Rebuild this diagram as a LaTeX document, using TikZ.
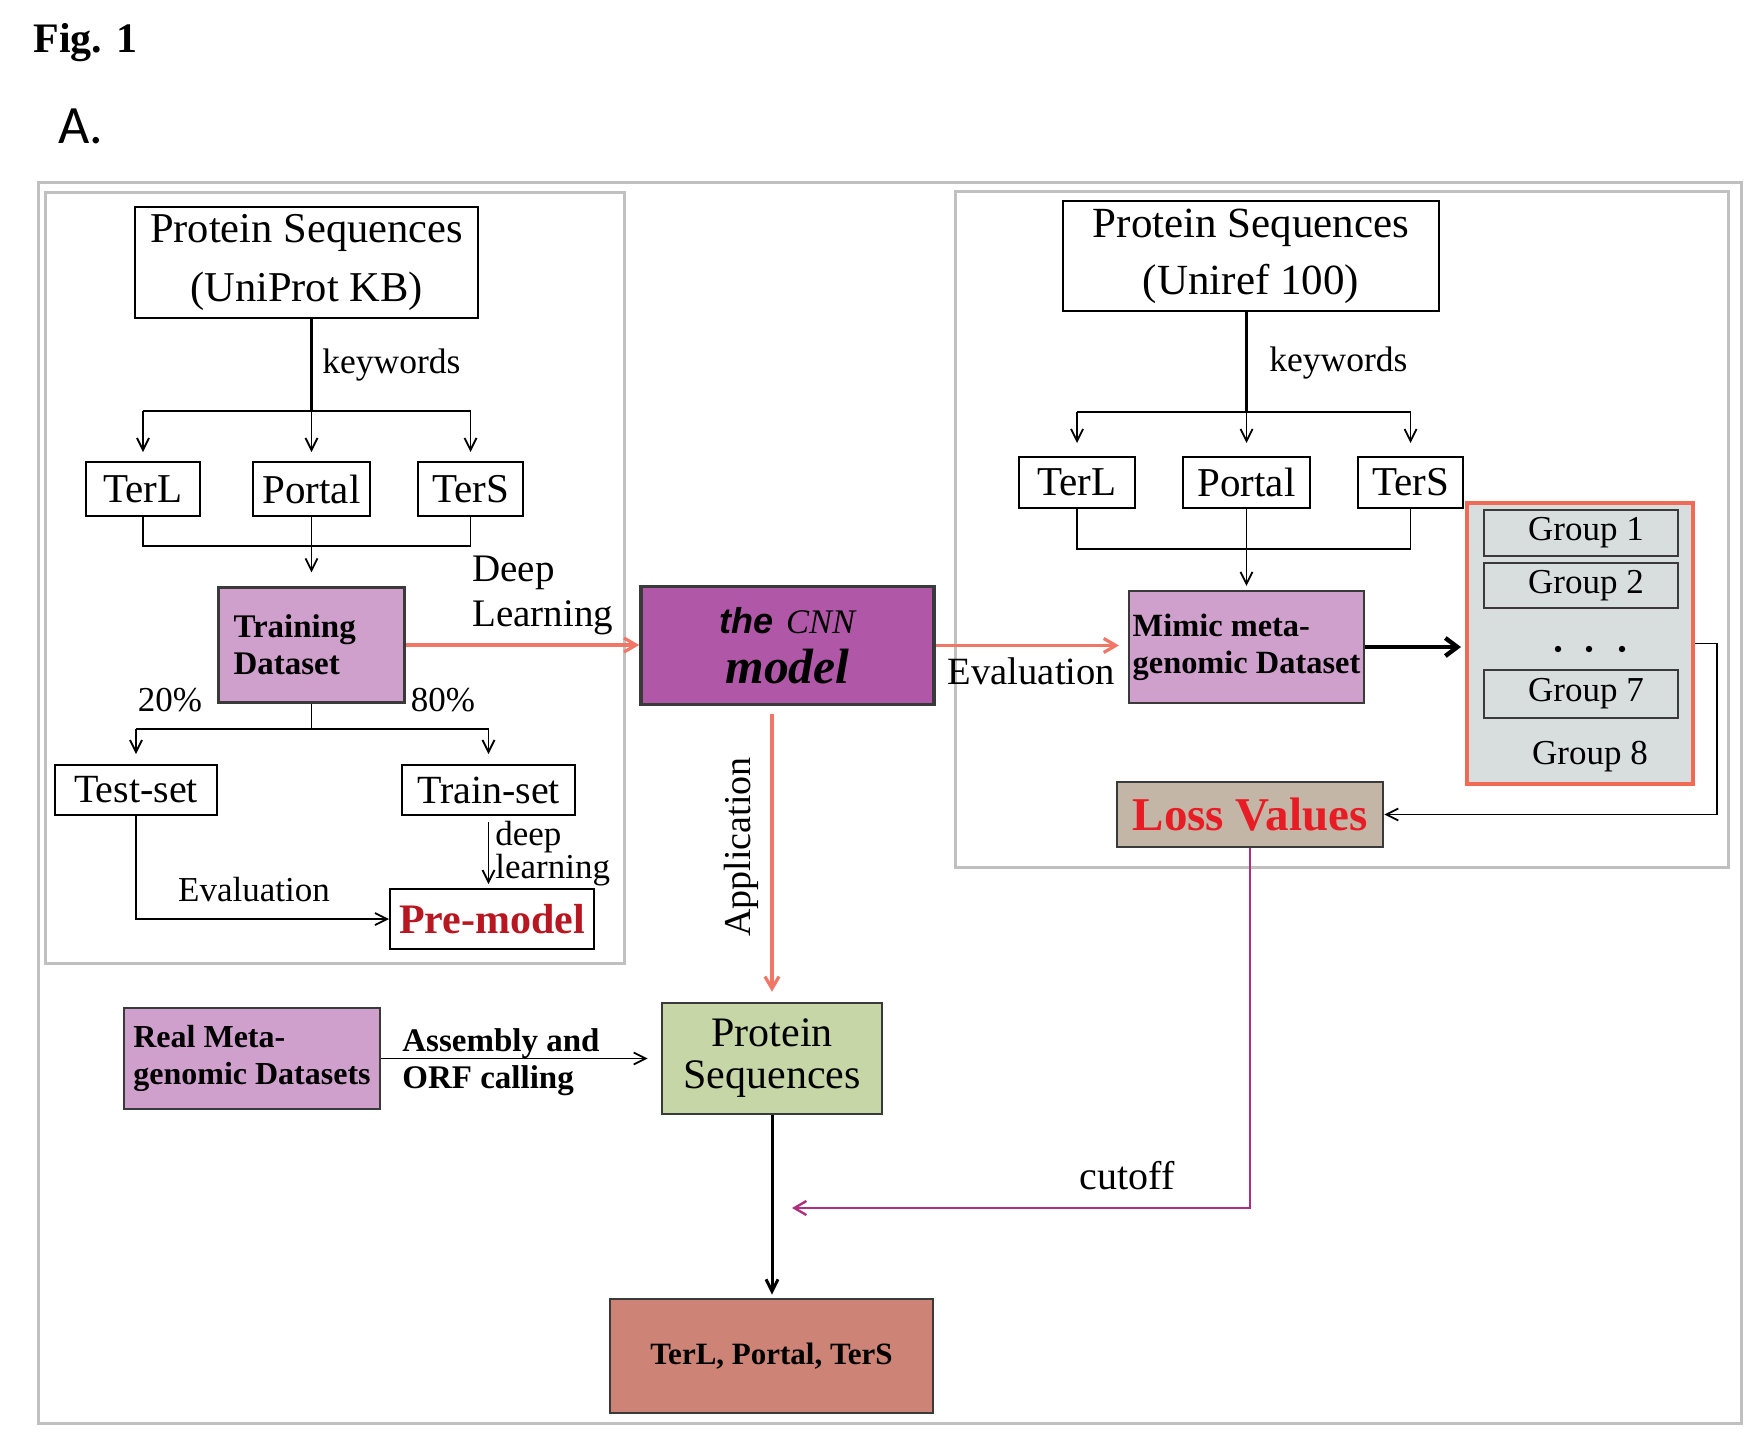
\documentclass[tikz,border=0pt]{standalone}
\usepackage{fontspec}
\setmainfont{Liberation Serif}
\setsansfont{Liberation Sans}
\newfontfamily\panelfont{Carlito}
\usetikzlibrary{arrows.meta,calc}
\newcommand\fsz[2]{\fontsize{#1}{#2}\selectfont}

\definecolor{framegray}{RGB}{192,192,192}
\definecolor{pinkbox}{RGB}{207,160,204}
\definecolor{cnnpurple}{RGB}{177,87,167}
\definecolor{greenbox}{RGB}{198,214,166}
\definecolor{tanbox}{RGB}{196,182,166}
\definecolor{finalbox}{RGB}{205,131,117}
\definecolor{groupfill}{RGB}{216,221,222}
\definecolor{salmon}{RGB}{240,106,86}
\definecolor{redarrow}{RGB}{242,118,102}
\definecolor{cutmag}{RGB}{176,46,126}
\definecolor{lossred}{RGB}{232,28,36}
\definecolor{premred}{RGB}{184,22,32}
\definecolor{edgegray}{RGB}{58,58,58}

\begin{document}
\begin{tikzpicture}[
  x=0.5pt, y=-0.5pt,
  frame/.style={draw=framegray, line width=1.5pt},
  plainbox/.style={draw=black, line width=1pt, fill=white, inner sep=0pt},
  pinkbox/.style={draw=edgegray, line width=1.1pt, fill=pinkbox},
  colbox/.style={draw=edgegray, line width=1.3pt, inner sep=0pt},
  groupbox/.style={draw=edgegray, line width=1pt, fill=groupfill, minimum width=97pt, font=\fsz{17.5}{20}},
  lbl/.style={inner sep=0pt},
  conn/.style={draw=black, line width=0.9pt},
  trunk/.style={draw=black, line width=1.8pt},
  arr/.style={draw=black, line width=0.9pt, -{Straight Barb[length=6pt,width=6pt]}},
  thickarr/.style={draw=black, line width=2.2pt, -{Straight Barb[length=6pt,width=9pt]}},
  redarr/.style={draw=redarrow, line width=1.6pt, -{Straight Barb[length=6pt,width=7pt]}},
  cutarr/.style={draw=cutmag, line width=1.2pt, -{Straight Barb[length=6pt,width=7pt]}}
]
\useasboundingbox (0,0) rectangle (1758,1436);
\fill[white] (0,0) rectangle (1758,1436);

% headings
\node[lbl, anchor=base west, font=\bfseries\fsz{21}{24}] (figlabel) at (33,52) {Fig. 1};
\node[lbl, anchor=base west, font=\panelfont\fsz{27}{30}] (panel) at (58,143) {A.};

% frames
\draw[frame] (38,182) rectangle (1741,1423);
\draw[frame] (45,192) rectangle (624,963);
\draw[frame] (955,191) rectangle (1728,867);

% ---------- left block: building the model ----------
\node[plainbox, minimum width=171.5pt, minimum height=55.5pt, align=center, font=\fsz{21.25}{29.5}] (ps1) at (306.5,262.5) {Protein Sequences\\(UniProt KB)};
\node[plainbox, minimum width=57pt, minimum height=27pt, font=\fsz{20.5}{24}] (terl1) at (143,489) {TerL};
\node[plainbox, minimum width=58.5pt, minimum height=27pt, font=\fsz{20.5}{24}] (portal1) at (311.5,489) {Portal};
\node[plainbox, minimum width=52.5pt, minimum height=27pt, font=\fsz{20.5}{24}] (ters1) at (470.5,489) {TerS};
\node[pinkbox, minimum height=57.5pt, text width=78pt, inner xsep=7.5pt, align=left, font=\bfseries\fsz{16.5}{18.5}] (train) at (311.5,645) {Training\\Dataset};
\node[plainbox, minimum width=81pt, minimum height=25pt, font=\fsz{20}{24}] (testset) at (136,790) {Test-set};
\node[plainbox, minimum width=86.5pt, minimum height=25pt, font=\fsz{20}{24}] (trainset) at (488.5,790) {Train-set};
\node[plainbox, minimum width=102pt, minimum height=30pt, font=\bfseries\fsz{21}{24}, text=premred] (premodel) at (492,919) {Pre-model};

\node[lbl, anchor=base west, font=\fsz{17.75}{20}] (kw1) at (322,373) {keywords};
\node[lbl, anchor=west, align=left, font=\fsz{19.5}{22.5}] (deeplbl) at (472,595) {Deep\\Learning};
\node[lbl, font=\fsz{17.5}{20}] (p20) at (170,700) {20\%};
\node[lbl, font=\fsz{17.5}{20}] (p80) at (443,700) {80\%};
\node[lbl, font=\fsz{17.5}{20}] (evalL) at (254,890) {Evaluation};
\node[lbl, anchor=west, align=left, font=\fsz{17.5}{16.5}] (dl) at (495,854) {deep\\learning};

\coordinate (bus1) at (311,411);
\coordinate (bus2) at (311,546);
\coordinate (bus3) at (312,729);
\draw[trunk] (portal1.north |- ps1.south) -- (portal1.north |- bus1);
\draw[conn] (terl1.north |- bus1) -- (ters1.north |- bus1);
\foreach \n in {terl1,portal1,ters1}
  \draw[arr, shorten >=4.5pt] (\n.north |- bus1) -- (\n.north);
\draw[conn] (terl1.south) -- (terl1.south |- bus2) -- (ters1.south |- bus2) -- (ters1.south);
\draw[arr, shorten >=7pt] (portal1.south) -- (portal1.south |- train.north);
\draw[conn] (train.south) -- (train.south |- bus3);
\draw[conn] (testset.north |- bus3) -- (trainset.north |- bus3);
\draw[arr, shorten >=5pt] (testset.north |- bus3) -- (testset.north);
\draw[arr, shorten >=5pt] (trainset.north |- bus3) -- (trainset.north);
\draw[arr] (testset.south) |- (premodel.west);
\draw[arr, shorten <=3pt, shorten >=2pt] (trainset.south) -- (trainset.south |- premodel.north);

% ---------- the CNN model ----------
\node[draw=edgegray, line width=1.8pt, fill=cnnpurple, minimum width=146.5pt, minimum height=59pt, inner sep=0pt, align=center, font=\fsz{24.8}{25}] (cnn) at (787.5,645.5)
  {{\sffamily\bfseries\itshape\fsz{18}{25}the} {\itshape\fsz{17.25}{25}CNN}\\{\bfseries\itshape model}};
\draw[redarr] (train.east) -- (train.east -| cnn.west);

% ---------- right block: evaluation ----------
\node[plainbox, minimum width=188pt, minimum height=55pt, align=center, font=\fsz{21.5}{28.5}] (ps2) at (1251,256) {Protein Sequences\\(Uniref 100)};
\node[plainbox, minimum width=58pt, minimum height=25.5pt, font=\fsz{20.5}{24}] (terl2) at (1077,482.5) {TerL};
\node[plainbox, minimum width=63.5pt, minimum height=25.5pt, font=\fsz{20.5}{24}] (portal2) at (1246.5,482.5) {Portal};
\node[plainbox, minimum width=52.5pt, minimum height=25.5pt, font=\fsz{20.5}{24}] (ters2) at (1410.5,482.5) {TerS};
\node[pinkbox, minimum width=117.5pt, minimum height=56pt, inner sep=0pt, align=left, font=\bfseries\fsz{16.2}{18.5}] (mimic) at (1246.5,647) {Mimic meta-\\genomic Dataset};
\node[lbl, anchor=base west, font=\fsz{17.75}{20}] (kw2) at (1269,371) {keywords};
\node[lbl, font=\fsz{19.3}{22}] (evalM) at (1031.5,671) {Evaluation};

\node[draw=salmon, line width=2pt, fill=groupfill, minimum width=113pt, minimum height=140.5pt, inner sep=0pt] (groups) at (1580,643.5) {};
\node[groupbox, minimum height=23pt] (g1) at (1581,533) {\hspace*{5pt}Group 1};
\node[groupbox, minimum height=22.5pt] (g2) at (1581,585.5) {\hspace*{5pt}Group 2};
\node[groupbox, minimum height=24pt] (g7) at (1581,694) {\hspace*{5pt}Group 7};
\node[lbl, font=\fsz{17.5}{20}] (g8) at (1590,757) {Group 8};
\foreach \dx in {1558,1589,1622}
  \fill[black] (\dx,649) circle[radius=1.6pt];

\node[colbox, fill=tanbox, minimum width=133pt, minimum height=32.5pt, font=\bfseries\fsz{23.5}{26}, text=lossred] (loss) at (1250,814.5) {Loss Values};

\coordinate (bus4) at (1246,412);
\coordinate (bus5) at (1246,549);
\coordinate (gright) at (1717,642);
\draw[trunk] (portal2.north |- ps2.south) -- (portal2.north |- bus4);
\draw[conn] (terl2.north |- bus4) -- (ters2.north |- bus4);
\foreach \n in {terl2,portal2,ters2}
  \draw[arr, shorten >=6.5pt] (\n.north |- bus4) -- (\n.north);
\draw[conn] (terl2.south) -- (terl2.south |- bus5) -- (ters2.south |- bus5) -- (ters2.south);
\draw[arr, shorten >=2pt] (portal2.south) -- (portal2.south |- mimic.north);
\draw[redarr, shorten >=4.5pt] (cnn.east) -- (cnn.east -| mimic.west);
\draw[thickarr, shorten >=2pt] (mimic.east) -- (mimic.east -| groups.west);
\draw[arr] (groups.east) -- (gright |- groups.east) |- (loss.east);

% ---------- application to real data ----------
\node[colbox, fill=greenbox, minimum width=110pt, minimum height=55.5pt, align=center, font=\fsz{21}{21}] (green) at (772,1058.5) {Protein\\Sequences};
\node[pinkbox, minimum width=128pt, minimum height=50.5pt, inner sep=0pt, align=left, font=\bfseries\fsz{16}{18.5}] (real) at (252,1058.5) {Real Meta-\\genomic Datasets};
\node[colbox, fill=finalbox, minimum width=161.5pt, minimum height=57pt, font=\bfseries\fsz{15.5}{18}] (final) at (771.5,1356) {TerL, Portal, TerS};

\node[lbl, anchor=west, align=left, font=\bfseries\fsz{16.5}{18.5}] (asm) at (402,1062) {Assembly and\\ORF calling};
\node[lbl, rotate=90, font=\fsz{19}{22}] (appl) at (741,847) {Application};
\node[lbl, font=\fsz{20}{22}] (cut) at (1127,1176) {cutoff};

\coordinate (cutend) at (792,1208);
\draw[redarr, shorten <=4pt, shorten >=5pt] (cnn.south -| green.north) -- (green.north);
\draw[arr, shorten >=6.5pt] (real.east) -- (real.east -| green.west);
\draw[arr, line width=1.5pt, shorten >=1.5pt] (green.south) -- (green.south |- final.north);
\draw[cutarr] (loss.south) |- (cutend);

\end{tikzpicture}
\end{document}
